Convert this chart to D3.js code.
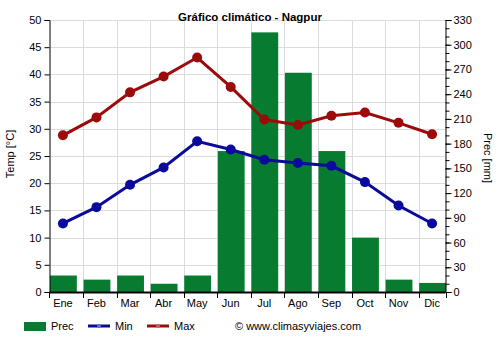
<!DOCTYPE html>
<html><head><meta charset="utf-8">
<script src="https://cdn.jsdelivr.net/npm/d3@7"></script>
<style>body{margin:0;background:#fff}svg{display:block}text{font-family:"Liberation Sans",Arial,sans-serif}</style>
</head><body>
<script>
const months = ["Ene","Feb","Mar","Abr","May","Jun","Jul","Ago","Sep","Oct","Nov","Dic"];
const prec = [20,15,20,10,20,171,315,266,171,66,15,11];
const tmin = [12.6,15.6,19.7,22.9,27.7,26.2,24.3,23.7,23.2,20.2,15.9,12.6];
const tmax = [28.8,32.1,36.7,39.6,43.1,37.7,31.7,30.7,32.4,33.0,31.1,29.0];
const tempTicks = [0,5,10,15,20,25,30,35,40,45,50];
const precTicks = [0,30,60,90,120,150,180,210,240,270,300,330];

const W=500,H=350, L=49.5, R=445.5, T=20, B=292;
const svg=d3.select("body").append("svg").attr("width",W).attr("height",H);
const xb=d3.scaleBand().domain(months).range([L, L+(R-L)*12/11.8]);
const bw=xb.bandwidth()*0.8;
const cx=m=>xb(m)+bw/2;
const yT=d3.scaleLinear().domain([0,50]).range([B,T]);
const yP=d3.scaleLinear().domain([0,330]).range([B,T]);

// grid
svg.append("g").selectAll("line").data(tempTicks).join("line")
 .attr("x1",L).attr("x2",R).attr("y1",d=>Math.round(yT(d))+0.5).attr("y2",d=>Math.round(yT(d))+0.5)
 .attr("stroke","#dcdcdc").attr("stroke-width",1);
svg.append("g").selectAll("line").data(months.slice(1)).join("line")
 .attr("x1",d=>Math.round(xb(d))+0.5).attr("x2",d=>Math.round(xb(d))+0.5).attr("y1",T).attr("y2",B)
 .attr("stroke","#dcdcdc").attr("stroke-width",1);

// bars
svg.append("g").selectAll("rect").data(prec).join("rect")
 .attr("x",(d,i)=>xb(months[i])+0.5).attr("width",bw)
 .attr("y",d=>yP(d)).attr("height",d=>B-yP(d)).attr("fill","#077c30");

// lines
function series(data,color){
  const g=svg.append("g");
  g.append("path").datum(data).attr("fill","none").attr("stroke",color).attr("stroke-width",3)
   .attr("d",d3.line().x((d,i)=>cx(months[i])).y(d=>yT(d)));
  g.selectAll("circle").data(data).join("circle")
   .attr("cx",(d,i)=>cx(months[i])).attr("cy",d=>yT(d)).attr("r",5).attr("fill",color);
}
series(tmax,"#9b0b0b");
series(tmin,"#0a0a9b");

// axes
const fs="11px";
const ax=svg.append("g").attr("transform",`translate(${L},0)`).call(d3.axisLeft(yT).tickValues(tempTicks).tickSize(5).tickPadding(3));
ax.select(".domain").attr("stroke","#000");
ax.selectAll("text").style("font-size",fs).attr("fill","#000");
const ar=svg.append("g").attr("transform",`translate(${R},0)`).call(d3.axisRight(yP).tickValues(d3.range(0,331,10)).tickSize(4).tickFormat(""));
ar.select(".domain").remove();
const ar2=svg.append("g").attr("transform",`translate(${R},0)`).call(d3.axisRight(yP).tickValues(precTicks).tickSize(6).tickPadding(2));
ar2.selectAll("text").style("font-size",fs).attr("fill","#000");
ar2.select(".domain").attr("stroke","#000");
svg.append("g").selectAll("text").data(months).join("text")
 .attr("x",d=>cx(d)).attr("y",B+15).attr("text-anchor","middle").style("font-size",fs).text(d=>d);
const tickXs=months.map(m=>xb(m)).concat([R]);
svg.append("g").selectAll("line").data(tickXs).join("line")
 .attr("x1",d=>Math.round(d)+0.5).attr("x2",d=>Math.round(d)+0.5)
 .attr("y1",B).attr("y2",B+6).attr("stroke","#000");
svg.append("line").attr("x1",L).attr("x2",R).attr("y1",B+0.5).attr("y2",B+0.5).attr("stroke","#000").attr("stroke-width",2);

// titles
svg.append("text").attr("x",250).attr("y",21).attr("text-anchor","middle").style("font-size","11.5px").style("font-weight","bold").text("Gráfico climático - Nagpur");
svg.append("text").attr("transform",`translate(14,154) rotate(-90)`).attr("text-anchor","middle").style("font-size","11px").text("Temp [°C]");
svg.append("text").attr("transform",`translate(484,158) rotate(90)`).attr("text-anchor","middle").style("font-size","11px").text("Prec [mm]");

// legend
const ly=326;
svg.append("rect").attr("x",24).attr("y",ly-4).attr("width",22).attr("height",9).attr("fill","#077c30");
svg.append("text").attr("x",51).attr("y",ly+4).style("font-size","11px").text("Prec");
svg.append("line").attr("x1",88).attr("x2",110).attr("y1",ly).attr("y2",ly).attr("stroke","#0a0a9b").attr("stroke-width",3);
svg.append("circle").attr("cx",99).attr("cy",ly).attr("r",2).attr("fill","#6a6ad0");
svg.append("text").attr("x",115).attr("y",ly+4).style("font-size","11px").text("Min");
svg.append("line").attr("x1",147).attr("x2",169).attr("y1",ly).attr("y2",ly).attr("stroke","#9b0b0b").attr("stroke-width",3);
svg.append("circle").attr("cx",158).attr("cy",ly).attr("r",2).attr("fill","#c06060");
svg.append("text").attr("x",174).attr("y",ly+4).style("font-size","11px").text("Max");
svg.append("text").attr("x",235).attr("y",ly+4).style("font-size","11px").text("© www.climasyviajes.com");
</script>
</body></html>
